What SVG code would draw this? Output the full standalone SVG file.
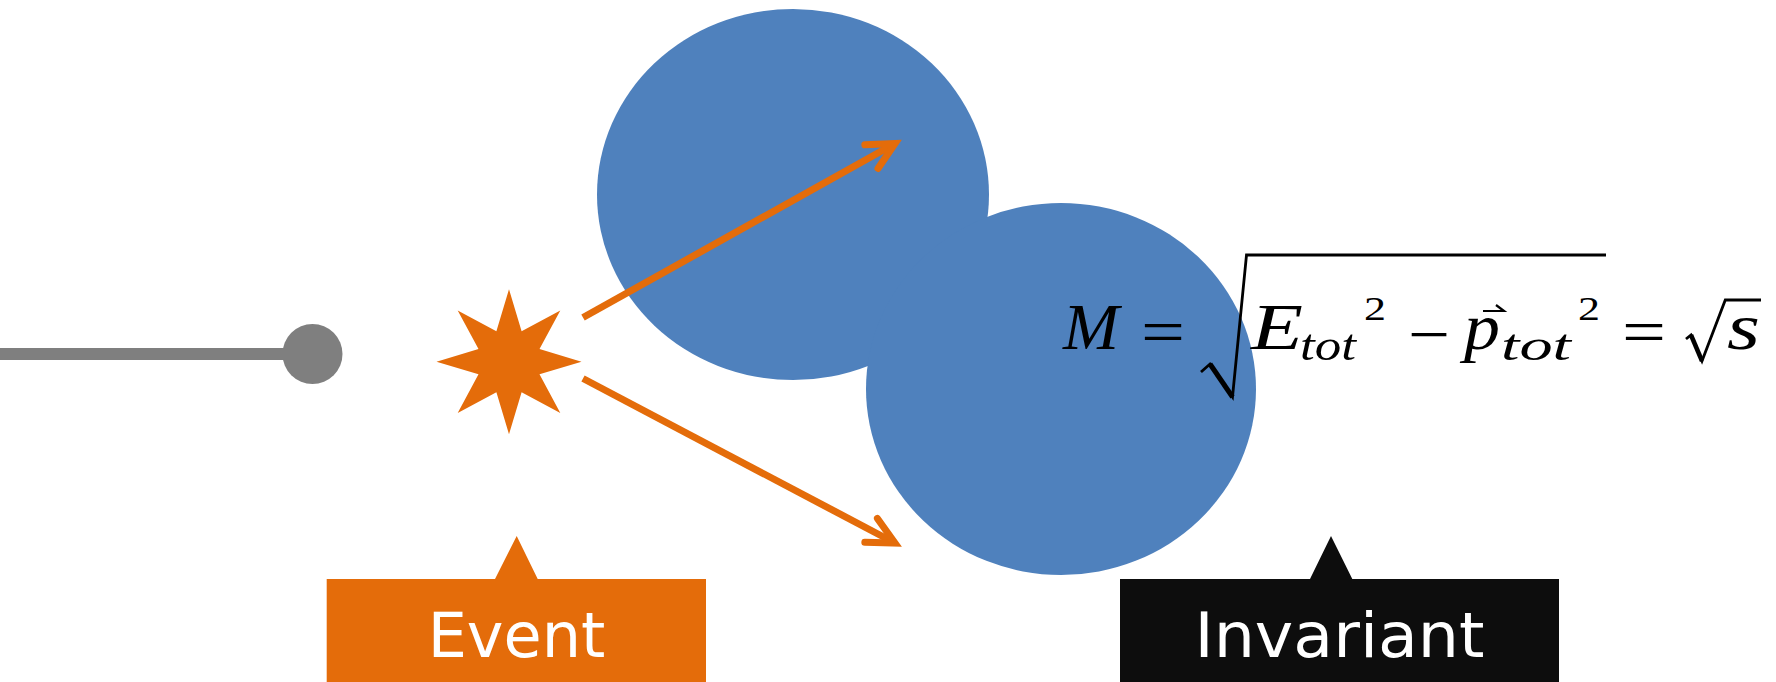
<svg xmlns="http://www.w3.org/2000/svg" width="1776" height="682" viewBox="0 0 1776 682">
<style>
.blue{fill:#4F81BD}
.orange{fill:#E46C0A}
.arrow{stroke:#E46C0A;stroke-width:7;fill:none}
.lbl{font-family:"DejaVu Sans",Verdana,sans-serif;font-size:62px;fill:#FFFFFF;text-anchor:middle}
.m{font-family:"Liberation Serif","DejaVu Serif",serif;font-style:italic;font-size:66px;fill:#000}
.mu{font-family:"Liberation Serif","DejaVu Serif",serif;font-size:64px;fill:#000}
.sub{font-family:"Liberation Serif","DejaVu Serif",serif;font-style:italic;font-size:44px;fill:#000}
.sup{font-family:"Liberation Serif","DejaVu Serif",serif;font-size:33px;fill:#000}
.rad{stroke:#000;fill:none;stroke-width:2.8;stroke-linejoin:miter}
</style>
<defs>
<marker id="head" markerUnits="userSpaceOnUse" markerWidth="40" markerHeight="40" refX="0" refY="0" viewBox="-32 -20 40 40" orient="auto" overflow="visible">
<path d="M-27,-13.5 L0,0 L-27,13.5" stroke="#E46C0A" stroke-width="7" fill="none" stroke-linecap="round" stroke-linejoin="miter"/>
</marker>
</defs>
<g id="beam">
<line x1="0" y1="354" x2="290" y2="354" stroke="#7F7F7F" stroke-width="12"/>
<circle cx="312.5" cy="354" r="30" fill="#7F7F7F"/>
</g>
<g id="particle-a">
<ellipse class="blue" cx="793" cy="194.5" rx="196" ry="185.5"/>
</g>
<g id="particle-b">
<ellipse class="blue" cx="1061" cy="389" rx="195" ry="186"/>
</g>
<g id="event-star">
<polygon class="orange" points="509,289.2 521.6,331.2 560.3,310.4 539.5,349.1 581.5,361.7 539.5,374.3 560.3,413 521.6,392.2 509,434.2 496.4,392.2 457.7,413 478.5,374.3 436.5,361.7 478.5,349.1 457.7,310.4 496.4,331.2"/>
</g>
<g id="connectors">
<line class="arrow" x1="583" y1="317.5" x2="895" y2="143.5" marker-end="url(#head)"/>
<line class="arrow" x1="583" y1="378.5" x2="895" y2="543" marker-end="url(#head)"/>
</g>
<g id="formula">
<text class="m" x="1063" y="349" textLength="56" lengthAdjust="spacingAndGlyphs">M</text>
<text class="mu" x="1141" y="353" textLength="44" lengthAdjust="spacingAndGlyphs">=</text>
<path class="rad" d="M1201,372 L1210,364 L1232.5,397 L1246.5,255 L1606,255"/>
<line x1="1210" y1="364" x2="1232.5" y2="397" stroke="#000" stroke-width="5"/>
<text class="m" x="1251" y="349" textLength="52" lengthAdjust="spacingAndGlyphs">E</text>
<text class="sub" x="1300" y="360" textLength="56" lengthAdjust="spacingAndGlyphs">tot</text>
<text class="sup" x="1364" y="320" textLength="22" lengthAdjust="spacingAndGlyphs">2</text>
<text class="mu" x="1408" y="356" textLength="42" lengthAdjust="spacingAndGlyphs">−</text>
<text class="m" x="1464" y="349" textLength="36" lengthAdjust="spacingAndGlyphs">p</text>
<path d="M1483,311 L1504,311 L1496,305" stroke="#000" stroke-width="2.2" fill="none"/>
<text class="sub" x="1501" y="360" textLength="70" lengthAdjust="spacingAndGlyphs">tot</text>
<text class="sup" x="1578" y="320" textLength="22" lengthAdjust="spacingAndGlyphs">2</text>
<text class="mu" x="1622" y="353" textLength="44" lengthAdjust="spacingAndGlyphs">=</text>
<path class="rad" d="M1686,339 L1691,335 L1702,361 L1725.3,300 L1761,300"/>
<line x1="1691" y1="335" x2="1702" y2="361" stroke="#000" stroke-width="4.5"/>
<text class="m" x="1727" y="349" textLength="33" lengthAdjust="spacingAndGlyphs">s</text>
</g>
<g id="label-event">
<path class="orange" d="M326.7,579 H495 L516.7,536 L537.7,579 H706 V682 H326.7 Z"/>
<text class="lbl" x="516.5" y="656.7">Event</text>
</g>
<g id="label-invariant">
<path d="M1120,579 H1310 L1331,536 L1352.3,579 H1559 V682 H1120 Z" fill="#0D0D0D"/>
<text class="lbl" x="1339.5" y="656.7" textLength="290" lengthAdjust="spacingAndGlyphs">Invariant</text>
</g>
</svg>
